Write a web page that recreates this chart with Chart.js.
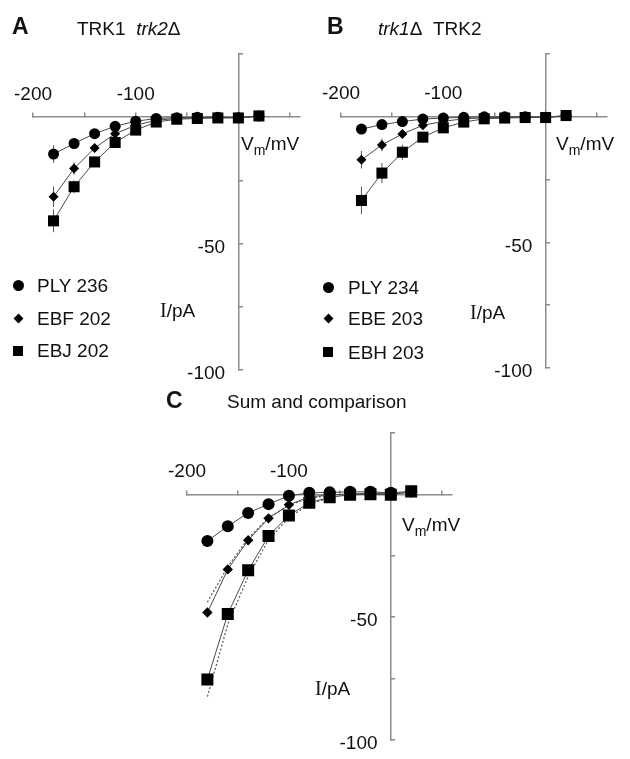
<!DOCTYPE html>
<html><head><meta charset="utf-8">
<script src="https://cdn.jsdelivr.net/npm/chart.js@4/dist/chart.umd.min.js"></script>
<style>
html,body{margin:0;padding:0;background:#fff}
body{width:630px;height:759px;position:relative;overflow:hidden;font-family:"Liberation Sans",Arial,Helvetica,sans-serif;color:#111}
canvas{position:absolute}
.t{position:absolute;white-space:nowrap;line-height:1;font-size:19px}
.b{font-weight:bold;font-size:23px}
.i{font-style:italic}
.serif{font-family:"Liberation Serif","Times New Roman",serif;font-size:20px}
sub{font-size:14px;vertical-align:-5px;line-height:0}
.mk{position:absolute;background:#000}
</style></head><body>
<canvas id="cA" width="315" height="390" style="left:0;top:0"></canvas>
<canvas id="cB" width="315" height="390" style="left:315px;top:0"></canvas>
<canvas id="cC" width="330" height="380" style="left:150px;top:379px"></canvas>

<div class="t b" style="left:12px;top:15px">A</div>
<div class="t" style="left:77px;top:19px">TRK1&nbsp; <span class="i">trk2</span>Δ</div>
<div class="t b" style="left:327px;top:15px">B</div>
<div class="t" style="left:378px;top:19px"><span class="i">trk1</span>Δ&nbsp; TRK2</div>
<div class="t b" style="left:166px;top:389px">C</div>
<div class="t" style="left:227px;top:392px">Sum and comparison</div>

<div class="t" style="left:241px;top:134px">V<sub>m</sub>/mV</div>
<div class="t" style="left:556px;top:134px">V<sub>m</sub>/mV</div>
<div class="t" style="left:402px;top:515px">V<sub>m</sub>/mV</div>
<div class="t" style="left:160px;top:300px"><span class="serif">I</span>/pA</div>
<div class="t" style="left:470px;top:302px"><span class="serif">I</span>/pA</div>
<div class="t" style="left:315px;top:678px"><span class="serif">I</span>/pA</div>

<div class="mk" style="left:13px;top:280px;width:11px;height:11px;border-radius:50%"></div>
<div class="t" style="left:37px;top:276px">PLY 236</div>
<div class="mk" style="left:15px;top:315px;width:7px;height:7px;transform:rotate(45deg)"></div>
<div class="t" style="left:37px;top:309px">EBF 202</div>
<div class="mk" style="left:13px;top:346px;width:10px;height:10px"></div>
<div class="t" style="left:37px;top:341px">EBJ 202</div>

<div class="mk" style="left:323px;top:282px;width:11px;height:11px;border-radius:50%"></div>
<div class="t" style="left:348px;top:278px">PLY 234</div>
<div class="mk" style="left:325px;top:315px;width:7px;height:7px;transform:rotate(45deg)"></div>
<div class="t" style="left:348px;top:309px">EBE 203</div>
<div class="mk" style="left:323px;top:347px;width:10px;height:10px"></div>
<div class="t" style="left:348px;top:343px">EBH 203</div>

<script>
// ---- data ----
const voltages = [-180, -160, -140, -120, -100, -80, -60, -40, -20, 0, 20];
const xTickVals = [-200, -150, -100, -50, 0, 50];
const xLabelVals = [-200, -100];
const yTickVals = [25, 0, -25, -50, -75, -100];
const yLabelVals = [-50, -100];

// Panel A: TRK1 trk2Δ
const aPLY236 = [-14.6, -10.4, -6.5, -3.6, -1.6, -0.5, -0.2, 0.0, 0.0, -0.2, 0.5];
const aEBF202 = [-31.5, -20.3, -12.2, -6.5, -3.2, -1.2, -0.5, -0.2, 0.0, -0.2, 0.3];
const aEBJ202 = [-41.0, -27.5, -17.7, -10.0, -5.1, -1.9, -0.8, -0.5, -0.3, -0.3, 0.5];
const aPLY236err = [3.5, 1.5, 1.0, 0.8, 0.5, 0, 0, 0, 0, 0, 0];
const aEBF202err = [4.0, 2.5, 1.5, 1.0, 0.8, 0.5, 0, 0, 0, 0, 0];
const aEBJ202err = [4.5, 2.5, 2.0, 1.5, 1.0, 0.5, 0, 0, 0, 0, 0];

// Panel B: trk1Δ TRK2
const bPLY234 = [-4.9, -3.1, -1.9, -0.9, -0.5, -0.2, 0.0, 0.0, 0.0, -0.2, 0.5];
const bEBE203 = [-17.1, -11.2, -6.8, -3.4, -1.8, -0.8, -0.4, -0.2, 0.0, -0.2, 0.3];
const bEBH203 = [-33.3, -22.4, -14.1, -8.1, -4.4, -2.1, -0.8, -0.5, -0.3, -0.3, 0.5];
const bPLY234err = [1.5, 1.0, 0.5, 0, 0, 0, 0, 0, 0, 0, 0];
const bEBE203err = [3.5, 2.5, 1.5, 1.0, 0.5, 0, 0, 0, 0, 0, 0];
const bEBH203err = [5.5, 4.0, 3.0, 2.0, 1.0, 0.5, 0, 0, 0, 0, 0];

// Panel C: sum and comparison
const cCircle  = [-19.0, -13.0, -7.6, -4.0, -0.6, 0.6, 0.8, 1.0, 1.0, 0.6, 1.2];
const cDiamond = [-48.2, -30.6, -18.7, -9.8, -4.3, -1.0, -0.3, 0.2, 0.4, 0.2, 0.8];
const cSquare  = [-75.5, -48.8, -31.0, -17.0, -8.6, -3.4, -1.2, -0.2, 0.0, -0.2, 1.2];
const sumVolts = [-180, -160, -140, -120, -100, -80, -60];
const cDiamondSum = [-44.0, -29.5, -18.0, -9.5, -4.5, -1.5, -0.5];
const cSquareSum  = [-82.5, -53.0, -33.5, -18.5, -9.5, -4.0, -1.5];

// ---- styling ----
const axisCol = '#8c8c8c';
const lineCol = '#4a4a4a';
Chart.defaults.font.family = '"Liberation Sans", Arial, sans-serif';
Chart.defaults.color = '#111';

const errorBars = {
  id: 'errorBars',
  beforeDatasetsDraw(chart) {
    const {ctx, scales: {x, y}} = chart;
    ctx.save();
    ctx.strokeStyle = '#555';
    ctx.lineWidth = 1;
    chart.data.datasets.forEach(ds => {
      if (!ds.errors) return;
      ds.data.forEach((p, i) => {
        const e = ds.errors[i];
        if (!e) return;
        const px = x.getPixelForValue(p.x);
        ctx.beginPath();
        ctx.moveTo(px, y.getPixelForValue(p.y - e));
        ctx.lineTo(px, y.getPixelForValue(p.y + e));
        ctx.stroke();
      });
    });
    ctx.restore();
  }
};

function pts(xs, ys) { return xs.map((v, i) => ({x: v, y: ys[i]})); }

function series(ys, style, r, errs) {
  return {
    data: pts(voltages, ys), errors: errs,
    pointStyle: style, pointRadius: r, pointHoverRadius: r,
    pointBackgroundColor: '#000', pointBorderColor: '#000', pointBorderWidth: 0,
    borderColor: lineCol, borderWidth: 1, tension: 0, fill: false
  };
}
function dotted(ys) {
  return {
    data: pts(sumVolts, ys), pointRadius: 0, borderColor: '#555',
    borderWidth: 1.2, borderDash: [2, 2], tension: 0, fill: false
  };
}

function scales(labelPadX) {
  return {
    x: {
      type: 'linear', min: -200, max: 60, position: {y: 0},
      afterBuildTicks: s => { s.ticks = xTickVals.map(v => ({value: v})); },
      afterFit: s => { s.height = 0; },
      grid: {drawOnChartArea: false, drawTicks: true, tickLength: -5, color: axisCol, lineWidth: 1.5},
      border: {color: axisCol, width: 1.5},
      ticks: {autoSkip: false, maxRotation: 0, padding: labelPadX, font: {size: 19}, color: '#111',
        callback: v => xLabelVals.includes(v) ? String(v) : ''}
    },
    y: {
      type: 'linear', min: -100, max: 25, position: {x: 0},
      afterBuildTicks: s => { s.ticks = yTickVals.map(v => ({value: v})); },
      afterFit: s => { s.width = 0; },
      grid: {drawOnChartArea: false, drawTicks: true, tickLength: -5, color: axisCol, lineWidth: 1.5},
      border: {color: axisCol, width: 1.5},
      ticks: {autoSkip: false, padding: 8, labelOffset: 4, font: {size: 19}, color: '#111',
        callback: v => yLabelVals.includes(v) ? String(v) + '\u2002\u2009' : ''}
    }
  };
}

function make(id, datasets, pad, plugins) {
  return new Chart(document.getElementById(id), {
    type: 'line',
    data: {datasets},
    options: {
      responsive: false, animation: false, events: [],
      layout: {padding: pad},
      plugins: {legend: {display: false}, tooltip: {enabled: false}, title: {display: false}},
      scales: scales(-29)
    },
    plugins
  });
}

make('cA', [
  series(aPLY236, 'circle', 5.5, aPLY236err),
  series(aEBF202, 'rectRot', 5, aEBF202err),
  series(aEBJ202, 'rect', 7.8, aEBJ202err)
], {left: 33, right: 15, top: 54, bottom: 20}, [errorBars]);

make('cB', [
  series(bPLY234, 'circle', 5.5, bPLY234err),
  series(bEBE203, 'rectRot', 5, bEBE203err),
  series(bEBH203, 'rect', 7.8, bEBH203err)
], {left: 26, right: 23, top: 54, bottom: 22}, [errorBars]);

make('cC', [
  series(cCircle, 'circle', 6, null),
  series(cDiamond, 'rectRot', 5.2, null),
  series(cSquare, 'rect', 8.5, null),
  dotted(cDiamondSum),
  dotted(cSquareSum)
], {left: 37, right: 28, top: 54, bottom: 14}, []);
</script>
</body></html>
